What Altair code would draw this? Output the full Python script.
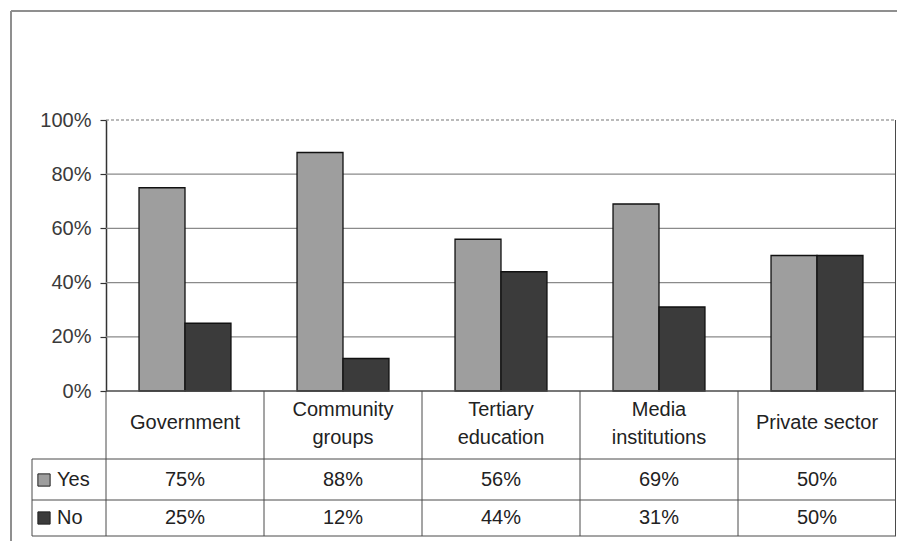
import altair as alt
import pandas as pd

categories = ["Government", "Community groups", "Tertiary education", "Media institutions", "Private sector"]
header_labels = ["Government", "Community\ngroups", "Tertiary\neducation", "Media\ninstitutions", "Private sector"]
yes_values = [0.75, 0.88, 0.56, 0.69, 0.50]
no_values = [0.25, 0.12, 0.44, 0.31, 0.50]
series = ["Yes", "No"]
series_colors = ["#9e9e9e", "#3b3b3b"]
grid_ticks = [0.2, 0.4, 0.6, 0.8]
top_tick = [1.0]
y_ticks = [0, 0.2, 0.4, 0.6, 0.8, 1.0]

W, H = 790, 271
FONT = "Liberation Sans"
FS = 20
LINE = "#4a4a4a"

bars_df = pd.DataFrame({
    "category": categories * 2,
    "series": ["Yes"] * len(categories) + ["No"] * len(categories),
    "value": yes_values + no_values,
})
table_df = pd.DataFrame({
    "category": categories,
    "header": header_labels,
    "nlines": [len(h.split("\n")) for h in header_labels],
    "yes": [f"{round(v * 100)}%" for v in yes_values],
    "no": [f"{round(v * 100)}%" for v in no_values],
})
legend_df = pd.DataFrame({"series": series})

x_scale = alt.Scale(paddingInner=0.418, paddingOuter=0.209)
y_scale = alt.Scale(domain=[0, 1], nice=False)


def xcat():
    return alt.X("category:N", sort=categories, axis=None, scale=x_scale, title=None)


one = pd.DataFrame({"a": [0]})


def hline(y, x1, x2, color=LINE, width=1.0, dash=None):
    kw = dict(color=color, strokeWidth=width)
    if dash:
        kw["strokeDash"] = dash
    return alt.Chart(one).mark_rule(**kw).encode(
        x=alt.value(x1), x2=alt.value(x2), y=alt.value(y))


def vline(x, y1, y2, color=LINE, width=1.0):
    return alt.Chart(one).mark_rule(color=color, strokeWidth=width).encode(
        x=alt.value(x), y=alt.value(y1), y2=alt.value(y2))


grid = alt.Chart(pd.DataFrame({"value": grid_ticks})).mark_rule(
    color="#8a8a8a", strokeWidth=1.2).encode(
    y=alt.Y("value:Q", scale=y_scale, title=None), x=alt.value(0), x2=alt.value(W))

top_line = alt.Chart(pd.DataFrame({"value": top_tick})).mark_rule(
    color="#777777", strokeWidth=1.2, strokeDash=[3, 2]).encode(
    y=alt.Y("value:Q", scale=y_scale, title=None), x=alt.value(0), x2=alt.value(W))

bars = alt.Chart(bars_df).mark_bar(stroke="#111111", strokeWidth=1.3).encode(
    x=xcat(),
    xOffset=alt.XOffset("series:N", sort=series, scale=alt.Scale(paddingInner=0, paddingOuter=0)),
    y=alt.Y("value:Q", scale=y_scale, title=None,
            axis=alt.Axis(values=y_ticks, format=".0%", grid=False,
                          labelFont=FONT, labelFontSize=FS, labelColor="#3a3a3a",
                          labelPadding=9, tickSize=6, tickColor="#333333",
                          domainColor="#333333", domainWidth=1.5, tickWidth=1.2)),
    color=alt.Color("series:N", scale=alt.Scale(domain=series, range=series_colors), legend=None),
)

text_kw = dict(font=FONT, fontSize=FS, color="#222222", baseline="middle")

header_one = alt.Chart(table_df).mark_text(**text_kw).encode(
    x=xcat(), y=alt.value(303), text="header:N").transform_filter("datum.nlines == 1")
header_two = alt.Chart(table_df).mark_text(lineBreak="\n", lineHeight=28, **text_kw).encode(
    x=xcat(), y=alt.value(290), text="header:N").transform_filter("datum.nlines == 2")
yes_text = alt.Chart(table_df).mark_text(**text_kw).encode(
    x=xcat(), y=alt.value(360), text="yes:N")
no_text = alt.Chart(table_df).mark_text(**text_kw).encode(
    x=xcat(), y=alt.value(398), text="no:N")

legend_keys = []
legend_texts = []
for s, yy in zip(series, [360, 398]):
    d = legend_df[legend_df["series"] == s]
    legend_keys.append(alt.Chart(d).mark_square(size=150, opacity=1, stroke="#222222", strokeWidth=1).encode(
        x=alt.value(-62), y=alt.value(yy),
        color=alt.Color("series:N", scale=alt.Scale(domain=series, range=series_colors), legend=None)))
    legend_texts.append(alt.Chart(d).mark_text(align="left", **text_kw).encode(
        x=alt.value(-49), y=alt.value(yy), text="series:N"))

col_w = W / len(categories)
lines = [
    hline(H, 0, W, width=1.5),
    hline(339, -74, W),
    hline(380, -74, W),
    hline(416, -74, W),
    vline(0, H, 416),
    vline(-74, 339, 416),
    vline(W - 0.5, 0, 416),
] + [vline(i * col_w, H, 416) for i in range(1, len(categories))]

border = [
    vline(-95, -109, 428, color="#8f8f8f", width=2),
    hline(-109, -95, W + 1, color="#8f8f8f", width=2),
]

chart = alt.layer(
    grid, top_line, bars, header_one, header_two, yes_text, no_text,
    *legend_keys, *legend_texts, *lines, *border
).properties(
    width=W, height=H,
    autosize=alt.AutoSizeParams(type="none"),
    padding={"left": 98, "top": 112, "right": 1, "bottom": 150},
    background="white",
).configure_view(stroke=None)

chart.save("out.html", embed_options={"renderer": "svg", "actions": False})
